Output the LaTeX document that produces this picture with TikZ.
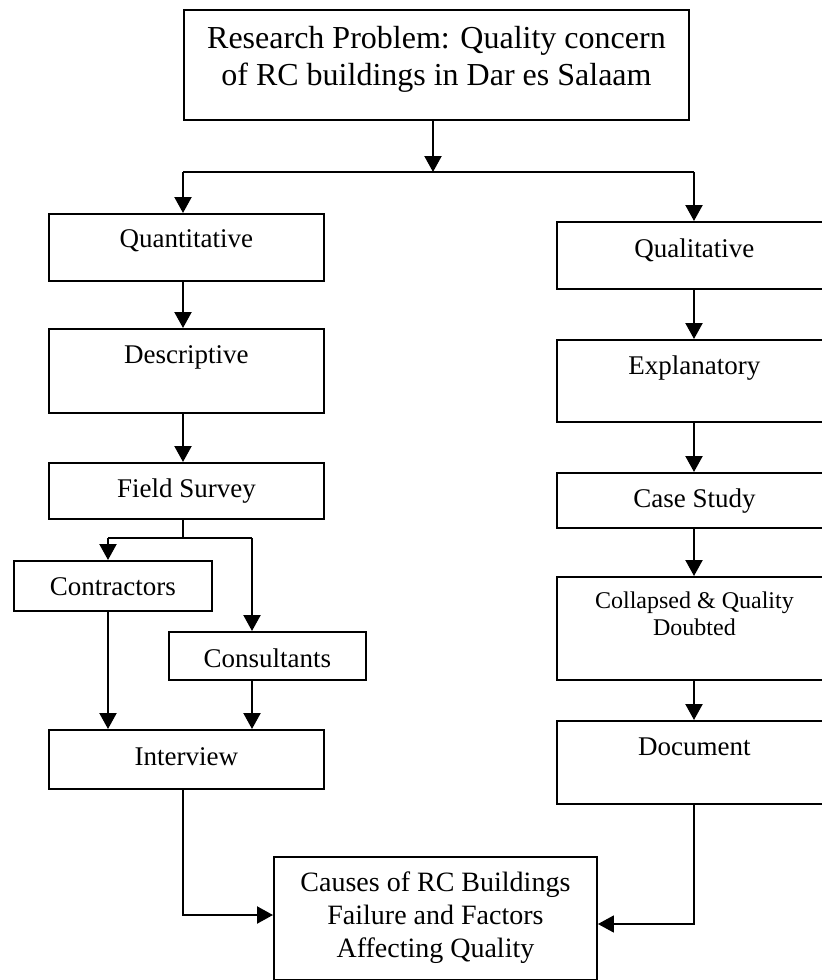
\documentclass[tikz,border=0pt]{standalone}
\usepackage{fontspec}
\setmainfont{Liberation Serif}
\usetikzlibrary{arrows.meta}

\tikzset{
  box/.style={draw=black, line width=1.9pt, rectangle, inner sep=0pt, anchor=north west},
  txt/.style={inner sep=0pt, align=center, anchor=base, font=\fontsize{27}{32}\selectfont},
  big/.style={font=\fontsize{32}{37}\selectfont},
  mid/.style={font=\fontsize{28}{33}\selectfont},
  small/.style={font=\fontsize{24}{27}\selectfont},
  flow/.style={draw=black, line width=2.2pt, -{Triangle[width=17pt,length=16pt]}},
  link/.style={draw=black, line width=2.2pt}
}

\begin{document}
\begin{tikzpicture}[x=1pt, y=-1pt]
\useasboundingbox (0,0) rectangle (822,980);
\clip (0,0) rectangle (822,980);

% boxes: corner position, width and height
\node[box, minimum width=505pt, minimum height=110pt] (rp)  at (183,9)   {};
\node[box, minimum width=275pt, minimum height=67pt]  (qn)  at (48,213)  {};
\node[box, minimum width=275pt, minimum height=84pt]  (ds)  at (48,328)  {};
\node[box, minimum width=275pt, minimum height=56pt]  (fs)  at (48,462)  {};
\node[box, minimum width=198pt, minimum height=50pt]  (ct)  at (13,560)  {};
\node[box, minimum width=197pt, minimum height=48pt]  (cs)  at (168,631) {};
\node[box, minimum width=275pt, minimum height=59pt]  (iv)  at (48,729)  {};
\node[box, minimum width=323pt, minimum height=123pt] (cz)  at (273,856) {};
\node[box, minimum width=275pt, minimum height=67pt]  (ql)  at (556,221) {};
\node[box, minimum width=275pt, minimum height=82pt]  (ex)  at (556,339) {};
\node[box, minimum width=275pt, minimum height=55pt]  (cst) at (556,472) {};
\node[box, minimum width=275pt, minimum height=103pt] (cl)  at (556,576) {};
\node[box, minimum width=275pt, minimum height=83pt]  (dc)  at (556,720) {};

% box texts, set near the top of each box (base = last line's baseline)
\node[txt, big] (rp-t) at ([yshift=-76pt]rp.north) {Research Problem: Quality concern\\of RC buildings in Dar es Salaam};
\node[txt] (qn-t)  at ([yshift=-34pt]qn.north)  {Quantitative};
\node[txt] (ds-t)  at ([yshift=-35pt]ds.north)  {Descriptive};
\node[txt] (fs-t)  at ([yshift=-35pt]fs.north)  {Field Survey};
\node[txt] (ct-t)  at ([yshift=-35pt]ct.north)  {Contractors};
\node[txt] (cs-t)  at ([yshift=-36pt]cs.north)  {Consultants};
\node[txt] (iv-t)  at ([yshift=-36pt]iv.north)  {Interview};
\node[txt, mid] (cz-t) at ([yshift=-101pt]cz.north) {Causes of RC Buildings\\Failure and Factors\\Affecting Quality};
\node[txt] (ql-t)  at ([yshift=-36pt]ql.north)  {Qualitative};
\node[txt] (ex-t)  at ([yshift=-35pt]ex.north)  {Explanatory};
\node[txt] (cst-t) at ([yshift=-35pt]cst.north) {Case Study};
\node[txt, small] (cl-t) at ([yshift=-59pt]cl.north) {Collapsed \& Quality\\Doubted};
\node[txt] (dc-t)  at ([yshift=-35pt]dc.north)  {Document};

% branch points
\coordinate (top)  at (433,119);
\coordinate (bl)   at (183,172);
\coordinate (br)   at (694,172);
\coordinate (lx)   at (183,0);
\coordinate (fj)   at (183,538);
\coordinate (jl)   at (108,538);
\coordinate (jr)   at (252,538);
\coordinate (ib)   at (183,915);
\coordinate (db)   at (694,924);

% split from the research problem
\draw[flow] (top) -- (top |- bl);
\draw[link] (bl) -- (br);
\draw[flow] (bl) -- (bl |- qn.north);
\draw[flow] (br) -- (br |- ql.north);

% quantitative branch
\draw[flow] (lx |- qn.south) -- (lx |- ds.north);
\draw[flow] (lx |- ds.south) -- (lx |- fs.north);
\draw[link] (lx |- fs.south) -- (fj);
\draw[link] (jl) -- (jr);
\draw[flow] (jl) -- (jl |- ct.north);
\draw[flow] (jr) -- (jr |- cs.north);
\draw[flow] (jl |- ct.south) -- (jl |- iv.north);
\draw[flow] (jr |- cs.south) -- (jr |- iv.north);
\draw[flow] (lx |- iv.south) -- (ib) -- (ib -| cz.west);

% qualitative branch
\draw[flow] (br |- ql.south)  -- (br |- ex.north);
\draw[flow] (br |- ex.south)  -- (br |- cst.north);
\draw[flow] (br |- cst.south) -- (br |- cl.north);
\draw[flow] (br |- cl.south)  -- (br |- dc.north);
\draw[flow, line width=1.6pt] (br |- dc.south) -- (db) -- (db -| cz.east);
\end{tikzpicture}
\end{document}
